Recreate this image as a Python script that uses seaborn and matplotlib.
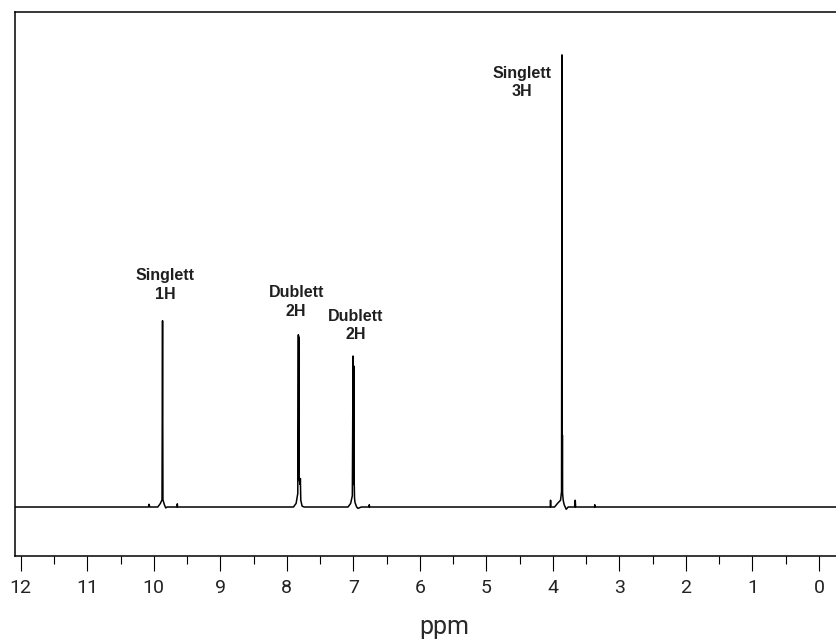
import matplotlib
matplotlib.use("Agg")
import matplotlib.pyplot as plt
import seaborn as sns
import pandas as pd
from matplotlib.ticker import MultipleLocator

# ---- data ----
spectrum_ppm = [
    12.30,
    10.08, 10.07, 10.06,
    9.94, 9.90, 9.876, 9.868, 9.862, 9.84, 9.82, 9.80,
    9.650, 9.646, 9.642,
    7.90, 7.86, 7.835, 7.826, 7.822, 7.818, 7.814, 7.800, 7.796, 7.790, 7.77, 7.74,
    7.08, 7.04, 7.015, 7.004, 7.000, 6.993, 6.989, 6.986, 6.982, 6.975, 6.95, 6.93, 6.88,
    6.765, 6.760, 6.755,
    4.040, 4.035, 4.030,
    3.975, 3.93, 3.885, 3.870, 3.863, 3.860, 3.857, 3.854, 3.845, 3.83, 3.80, 3.77,
    3.670, 3.664, 3.658,
    3.375, 3.370, 3.365,
    -0.50,
]
spectrum_intensity = [
    0.0,
    0.0, 0.6, 0.0,
    0.0, 0.8, 1.6, 41.2, 1.6, 0.5, -0.2, 0.0,
    0.0, 0.7, 0.0,
    0.0, 0.8, 3.0, 38.1, 6.0, 37.6, 6.3, 5.0, 6.3, 1.5, 0.2, 0.0,
    0.0, 0.8, 2.5, 33.4, 5.0, 31.2, 5.0, 5.1, 2.0, 1.0, 0.0, -0.3, 0.0,
    0.0, 0.5, 0.0,
    0.0, 1.5, 0.0,
    0.0, 0.8, 1.5, 3.4, 100.0, 4.0, 15.9, 3.0, 1.5, 0.5, -0.5, 0.0,
    0.0, 1.5, 0.0,
    0.0, 0.5, 0.0,
    0.0,
]
label_text = ["Singlett\n1H", "Dublett\n2H", "Dublett\n2H", "Singlett\n3H"]
label_ppm = [9.83, 7.86, 6.97, 4.47]
label_height = [52.8, 49.0, 43.9, 97.6]

major_ticks = list(range(0, 13))

# ---- plot ----
sns.set_theme(style="white")
plt.rcParams["font.family"] = ["Roboto", "DejaVu Sans"]

fig = plt.figure(figsize=(8.37, 6.40), dpi=100)
ax = fig.add_axes([15 / 837, (640 - 555.7) / 640, (837 - 15) / 837, (555.7 - 11.5) / 640])

df = pd.DataFrame({"ppm": spectrum_ppm, "intensity": spectrum_intensity})
sns.lineplot(data=df, x="ppm", y="intensity", sort=False, estimator=None,
             color="black", linewidth=1.1, ax=ax)

for txt, xp, yp in zip(label_text, label_ppm, label_height):
    ax.text(xp, yp, txt, ha="center", va="top", fontsize=11.5, fontweight="bold",
            family=["Liberation Sans", "DejaVu Sans"], color="#1f1f1f",
            linespacing=1.3, multialignment="center")

ax.set_xlim(12.086, -0.271)
ax.set_ylim(-10.77, 109.6)

for s in ["left", "top", "bottom"]:
    ax.spines[s].set_visible(True)
    ax.spines[s].set_color("black")
    ax.spines[s].set_linewidth(1.1)
ax.spines["right"].set_visible(False)

ax.set_xticks(major_ticks)
ax.set_xticklabels([str(t) for t in major_ticks])
ax.xaxis.set_minor_locator(MultipleLocator(0.5))
ax.tick_params(axis="x", which="major", direction="out", length=10.5, width=0.8,
               color="black", pad=6, labelsize=14, labelcolor="#222222", bottom=True)
ax.tick_params(axis="x", which="minor", direction="out", length=5.5, width=0.8,
               color="black", bottom=True)
ax.set_yticks([])
ax.set_ylabel("")

ax.set_xlabel("ppm", fontsize=18, color="#2a2a2a", va="baseline")
ax.xaxis.set_label_coords((444 - 15) / 822, (555.7 - 634.3) / 544.2)

fig.savefig("out.png", dpi=100)
